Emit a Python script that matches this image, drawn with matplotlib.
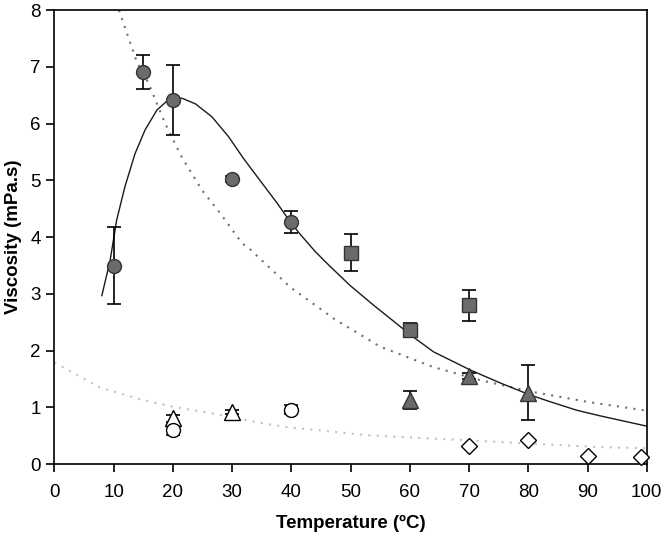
import matplotlib.pyplot as plt

plt.rcParams['font.family'] = ['Liberation Sans', 'DejaVu Sans']

# points : (T, viscosite, erreur)
t_rond_plein = [10, 15, 20, 30, 40]
v_rond_plein = [3.50, 6.91, 6.42, 5.03, 4.27]
e_rond_plein = [0.68, 0.30, 0.62, 0.05, 0.19]

t_carre = [50, 60, 70]
v_carre = [3.73, 2.36, 2.80]
e_carre = [0.33, 0.12, 0.27]

t_tri_plein = [60, 70, 80]
v_tri_plein = [1.13, 1.55, 1.26]
e_tri_plein = [0.16, 0.05, 0.48]

t_tri_vide = [20, 30]
v_tri_vide = [0.81, 0.92]
e_tri_vide = [0.06, 0.04]

t_rond_vide = [20, 40]
v_rond_vide = [0.60, 0.96]
e_rond_vide = [0.08, 0.08]

t_losange = [70, 80, 90, 99]
v_losange = [0.32, 0.43, 0.14, 0.12]

# courbes d'ajustement (points relevés)
t_ajust = [8.0, 9.4, 10.5, 11.9, 13.6, 15.3, 17.3, 19.0, 21.5, 23.8, 26.6, 29.4, 31.9,
           34.7, 37.6, 39.8, 41.5, 44.0, 46.0, 49.9, 53.9, 60.6, 64.0, 70.2, 75.3, 80.3,
           83.7, 88.2, 92.2, 100]
v_ajust = [2.97, 3.59, 4.30, 4.89, 5.47, 5.89, 6.24, 6.40, 6.45, 6.35, 6.12, 5.77, 5.39,
           5.00, 4.60, 4.27, 4.05, 3.75, 3.54, 3.15, 2.80, 2.24, 1.98, 1.66, 1.43, 1.22,
           1.10, 0.95, 0.85, 0.67]

t_pointille = [10.9, 13.9, 15.9, 18.7, 21.5, 24.9, 28.0, 31.7, 33.1, 39.8, 47.1, 55.0,
               64.0, 71.9, 80.9, 89.9, 99.5]
v_pointille = [8.00, 7.09, 6.71, 6.00, 5.41, 4.83, 4.42, 3.89, 3.78, 3.12, 2.57, 2.07,
               1.71, 1.48, 1.27, 1.10, 0.95]

t_clair = [0, 7.7, 15.0, 20.1, 26.9, 34.7, 38.7, 52.8, 69.7, 80.9, 92.2, 100]
v_clair = [1.79, 1.35, 1.13, 1.01, 0.89, 0.73, 0.66, 0.51, 0.42, 0.36, 0.30, 0.28]

fig = plt.figure(figsize=(6.64, 5.36), dpi=100)
ax = fig.add_axes([0.082, 0.134, 0.892, 0.847])

ax.plot(t_clair, v_clair, color='#c2c2c2', lw=1.5, ls=(0, (1, 3)), zorder=1)
ax.plot(t_pointille, v_pointille, color='#707070', lw=1.5, ls=(0, (1, 3)), zorder=1)
ax.plot(t_ajust, v_ajust, color='#1a1a1a', lw=1.0, zorder=2)

gris = '#6b6b6b'
bord = '#333333'
style_err = dict(ecolor='black', elinewidth=1.2, capsize=5, capthick=1.2, ls='none')

ax.errorbar(t_rond_plein, v_rond_plein, yerr=e_rond_plein, marker='o', ms=10,
            mfc=gris, mec=bord, zorder=3, **style_err)
ax.errorbar(t_carre, v_carre, yerr=e_carre, marker='s', ms=10,
            mfc=gris, mec=bord, zorder=3, **style_err)
ax.errorbar(t_tri_plein, v_tri_plein, yerr=e_tri_plein, marker='^', ms=11,
            mfc=gris, mec=bord, zorder=3, **style_err)
ax.errorbar(t_tri_vide, v_tri_vide, yerr=e_tri_vide, marker='^', ms=11,
            mfc='white', mec='black', zorder=3, **style_err)
ax.errorbar(t_rond_vide, v_rond_vide, yerr=e_rond_vide, marker='o', ms=10,
            mfc='white', mec='black', zorder=3, **style_err)
ax.plot(t_losange, v_losange, 'D', ms=8, mfc='white', mec='black', ls='none',
        clip_on=False, zorder=3)

ax.set_xlim(0, 100)
ax.set_ylim(0, 8)
ax.set_xticks(range(0, 101, 10))
ax.set_yticks(range(0, 9))
ax.tick_params(direction='out', length=6, width=1.2, labelsize=13.5)
ax.tick_params(axis='x', pad=8)
ax.tick_params(axis='y', pad=4)
for s in ax.spines.values():
    s.set_linewidth(1.2)

ax.set_xlabel("Temperature (ºC)", fontsize=13.5, fontweight='bold', labelpad=10)
ax.set_ylabel("Viscosity (mPa.s)", fontsize=13.5, fontweight='bold', labelpad=6)

fig.savefig('out.png', dpi=100)
